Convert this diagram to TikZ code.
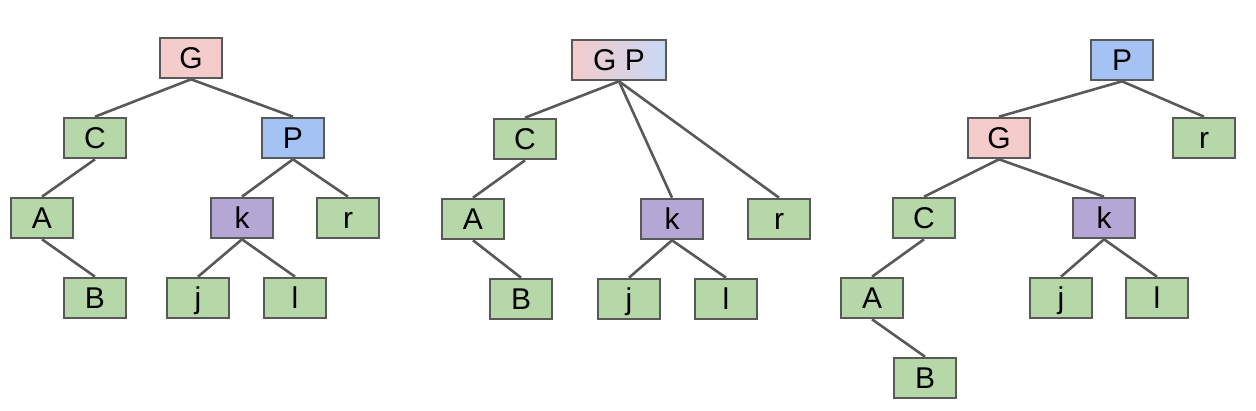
\documentclass[tikz,border=0pt]{standalone}
\usepackage{fontspec}
\setmainfont{Liberation Sans}
\definecolor{bordc}{HTML}{595959}
\definecolor{pinkc}{HTML}{F4CCCC}
\definecolor{bluec}{HTML}{A4C2F4}
\definecolor{lbluec}{HTML}{C9D8F4}
\definecolor{greenc}{HTML}{B6D7A8}
\definecolor{purplec}{HTML}{B4A7D6}
\begin{document}
\begin{tikzpicture}[x=1pt,y=-1pt,
  box/.style={draw=bordc,line width=2.6pt,minimum width=62pt,minimum height=40pt,inner sep=0pt,
    font=\fontsize{30}{32}\selectfont,text height=21.5pt,text depth=1pt},
  gbox/.style={box,fill=greenc},
  pbox/.style={box,fill=pinkc},
  bbox/.style={box,fill=bluec},
  kbox/.style={box,fill=purplec},
  edge/.style={draw=bordc,line width=2.6pt}]
\useasboundingbox (0,0) rectangle (1256,410);
% Tree 1
\node[pbox] (G1) at (191,58) {G};
\node[gbox] (C1) at (95,138) {C};
\node[bbox] (P1) at (293,138) {P};
\node[gbox] (A1) at (42,218) {A};
\node[kbox] (k1) at (242,218) {k};
\node[gbox] (r1) at (348,218) {r};
\node[gbox] (B1) at (95,298) {B};
\node[gbox] (j1) at (198,298) {j};
\node[gbox] (l1) at (295,298) {l};
\draw[edge] (G1.south) -- (C1.north);
\draw[edge] (G1.south) -- (P1.north);
\draw[edge] (C1.south) -- (A1.north);
\draw[edge] (A1.south) -- (B1.north);
\draw[edge] (P1.south) -- (k1.north);
\draw[edge] (P1.south) -- (r1.north);
\draw[edge] (k1.south) -- (j1.north);
\draw[edge] (k1.south) -- (l1.north);
% Tree 2
\node[box,minimum width=94pt,left color=pinkc,right color=lbluec] (GP2) at (619,60) {G P};
\node[gbox] (C2) at (525,139) {C};
\node[gbox] (A2) at (473,219) {A};
\node[gbox] (B2) at (521,299) {B};
\node[kbox] (k2) at (672,219) {k};
\node[gbox] (r2) at (779,219) {r};
\node[gbox] (j2) at (629,299) {j};
\node[gbox] (l2) at (726,299) {l};
\draw[edge] (GP2.south) -- (C2.north);
\draw[edge] (GP2.south) -- (k2.north);
\draw[edge] (GP2.south) -- (r2.north);
\draw[edge] (C2.south) -- (A2.north);
\draw[edge] (A2.south) -- (B2.north);
\draw[edge] (k2.south) -- (j2.north);
\draw[edge] (k2.south) -- (l2.north);
% Tree 3
\node[bbox] (P3) at (1122,60) {P};
\node[pbox] (G3) at (999,138) {G};
\node[gbox] (r3) at (1204,138) {r};
\node[gbox] (C3) at (924,218) {C};
\node[kbox] (k3) at (1104,218) {k};
\node[gbox] (A3) at (872,298) {A};
\node[gbox] (j3) at (1061,298) {j};
\node[gbox] (l3) at (1157,298) {l};
\node[gbox] (B3) at (925,378) {B};
\draw[edge] (P3.south) -- (G3.north);
\draw[edge] (P3.south) -- (r3.north);
\draw[edge] (G3.south) -- (C3.north);
\draw[edge] (G3.south) -- (k3.north);
\draw[edge] (C3.south) -- (A3.north);
\draw[edge] (A3.south) -- (B3.north);
\draw[edge] (k3.south) -- (j3.north);
\draw[edge] (k3.south) -- (l3.north);
\end{tikzpicture}
\end{document}
